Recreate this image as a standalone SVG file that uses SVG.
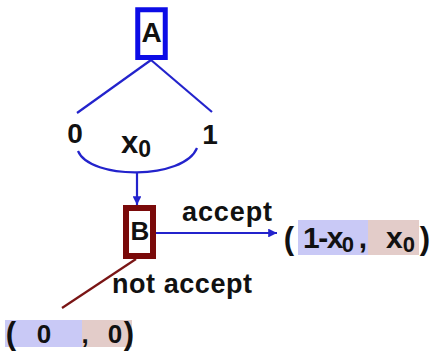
<svg xmlns="http://www.w3.org/2000/svg" width="433" height="352" viewBox="0 0 433 352">
  <style>
    text { font-family: "Liberation Sans", Arial, sans-serif; font-weight: bold; fill: #111; }
    .mid { text-anchor: middle; }
    .sub { font-size: 22px; }
    .blue { stroke: #2323cc; stroke-width: 2.2; fill: none; }
    .maroon { stroke: #7a1515; stroke-width: 2.2; fill: none; }
    .bgA { fill: #c9c9f6; }
    .bgB { fill: #e3ccc9; }
  </style>
  <defs>
    <marker id="arrow" viewBox="0 0 10 10" refX="10" refY="5" markerWidth="4" markerHeight="4" orient="auto" markerUnits="strokeWidth">
      <path d="M0,0 L10,5 L0,10 z" fill="#2323cc"/>
    </marker>
  </defs>

  <!-- connectors -->
  <g id="connectors">
    <path class="blue" d="M151,60 L77,113"/>
    <path class="blue" d="M151,60 L212,112"/>
    <path class="blue" d="M78,151 C90,180 184,180 197,148"/>
    <path class="blue" d="M137,172 L137,205" marker-end="url(#arrow)"/>
    <path class="blue" d="M156,233 L277,233" marker-end="url(#arrow)"/>
    <path class="maroon" d="M136,259 L62,308"/>
  </g>

  <!-- branch labels -->
  <g id="labels">
    <text class="mid" x="75" y="143" font-size="28">0</text>
    <text class="mid" x="210" y="144" font-size="28">1</text>
    <text x="121" y="153" font-size="31">x<tspan font-size="23" dy="4">0</tspan></text>
    <text x="182" y="221" font-size="27" textLength="90" lengthAdjust="spacing">accept</text>
    <text x="112" y="293" font-size="27" textLength="140" lengthAdjust="spacing">not accept</text>
  </g>

  <!-- decision node A -->
  <g id="node-A">
    <rect x="137.75" y="9.75" width="27.5" height="47.75" fill="#fff" stroke="#0c0ce6" stroke-width="5"/>
    <text class="mid" x="151.5" y="42" font-size="28">A</text>
  </g>

  <!-- decision node B -->
  <g id="node-B">
    <rect x="126" y="208" width="27" height="48" fill="#fff" stroke="#7a0a0a" stroke-width="6"/>
    <text class="mid" x="140" y="240" font-size="26">B</text>
  </g>

  <!-- payoff when accepted -->
  <g id="payoff-accept">
    <rect class="bgA" x="298" y="220" width="70" height="35"/>
    <rect class="bgB" x="368" y="220" width="51" height="35"/>
    <text class="mid" x="289" y="249" font-size="31">(</text>
    <text x="303" y="248" font-size="30" letter-spacing="-1.5">1-x<tspan class="sub" dy="4" letter-spacing="0">0</tspan></text>
    <text class="mid" x="363" y="248" font-size="30">,</text>
    <text x="386" y="248" font-size="30">x<tspan class="sub" dy="4">0</tspan></text>
    <text class="mid" x="425" y="249" font-size="31">)</text>
  </g>

  <!-- payoff when not accepted -->
  <g id="payoff-reject">
    <rect class="bgA" x="5" y="320" width="77" height="27"/>
    <rect class="bgB" x="82" y="320" width="50" height="27"/>
    <text class="mid" x="11" y="344" font-size="31">(</text>
    <text class="mid" x="44" y="343" font-size="26">0</text>
    <text class="mid" x="85" y="343" font-size="26">,</text>
    <text class="mid" x="115" y="343" font-size="26">0</text>
    <text class="mid" x="129" y="344" font-size="31">)</text>
  </g>
</svg>
